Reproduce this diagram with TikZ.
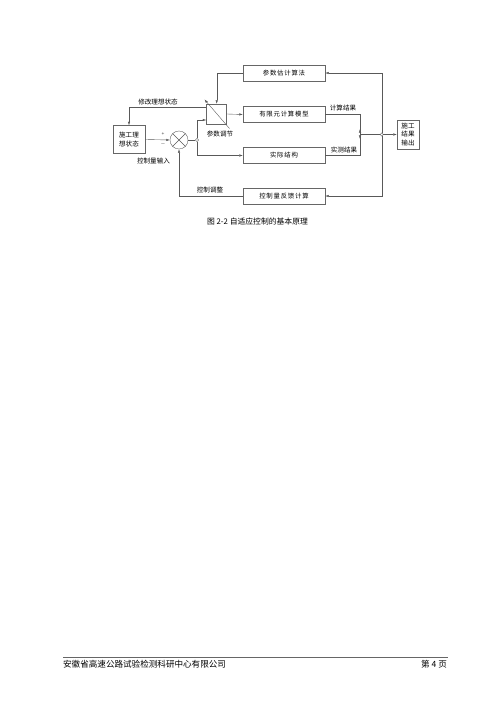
\documentclass[tikz,border=0pt]{standalone}
\usepackage{fontspec}
\setmainfont{Liberation Serif}
\newfontfamily\cjk{Noto Sans CJK SC}
\newfontfamily\cjksp[LetterSpace=12]{Noto Sans CJK SC}
\usetikzlibrary{arrows.meta}
\begin{document}
\begin{tikzpicture}[x=1.19pt,y=-1.19pt,
  ln/.style={draw=black!65,line width=0.45pt},
  arr/.style={ln,-{Latex[length=4.2pt,width=2.8pt]}},
  blk/.style={draw=black!60,line width=0.45pt,minimum width=82*1.19pt,minimum height=16*1.19pt,inner sep=0pt,font=\cjksp\fontsize{7.6}{9}\selectfont},
  lbl/.style={inner sep=0pt,font=\cjk\fontsize{7.8}{9}\selectfont},
  sbox/.style={draw=black!60,line width=0.45pt,inner sep=0pt,align=center,font=\cjk\fontsize{7.8}{10.5}\selectfont}]
\useasboundingbox (0,0) rectangle (500,707);
\fill[white] (0,0) rectangle (500,707);
% blocks
\node[blk] (est) at (284,73) {参数估计算法};
\node[blk] (fem) at (284,114.5) {有限元计算模型};
\node[blk] (real) at (284,155.5) {实际结构};
\node[blk] (fb) at (284,196) {控制量反馈计算};
\node[sbox,minimum width=32*1.19pt,minimum height=28*1.19pt] (ideal) at (129,139.5) {施工理\\想状态};
\node[sbox,minimum width=22*1.19pt,minimum height=29*1.19pt] (out) at (408,134.5) {施工\\结果\\输出};
\node[draw=black!60,line width=0.45pt,minimum width=20*1.19pt,minimum height=20*1.19pt,inner sep=0pt] (par) at (216.5,114) {};
\node[circle,draw=black!65,line width=0.45pt,minimum size=18*1.19pt,inner sep=0pt] (sum) at (179,140) {};
\draw[ln] (sum.north west)--(sum.south east) (sum.north east)--(sum.south west);
\node[circle,draw=black!65,fill=white,line width=0.4pt,minimum size=3.2*1.19pt,inner sep=0pt] (br) at (197,140) {};
\node[circle,draw=black!65,fill=white,line width=0.4pt,minimum size=3.2*1.19pt,inner sep=0pt] (br2) at (381.7,134.5) {};
\coordinate (jn) at (360,134.5);
% diagonal adjust arrow
\coordinate (dA) at (229.5,128.5);
\coordinate (dB) at (204.5,99.5);
\draw[arr] (dA)--(dB);
% labels
\node[lbl] at (220,133.5) {参数调节};
\node[lbl] at (158,102) {修改理想状态};
\node[lbl] at (153.5,161) {控制量输入};
\node[lbl] at (210,190) {控制调整};
\node[lbl] at (343,108) {计算结果};
\node[lbl] at (344,150) {实测结果};
\node[inner sep=0pt,font=\fontsize{6}{7}\selectfont] at (163,134) {+};
\node[inner sep=0pt,font=\fontsize{6}{7}\selectfont] at (163,144.5) {$-$};
% connectors
\draw[arr] (ideal.east)--(sum.west);
\draw[ln] (sum.east)--(br.west);
\draw[arr] (br.north)|-([yshift=-6*1.19pt]par.west);
\draw[arr] (br.south)|-(real.west);
\draw[arr] (par.east)--(fem.west);
\draw[arr] (est.west)-|([xshift=0.2*1.19pt]par.north);
\draw[arr] ([yshift=7.3*1.19pt]par.west)-|(ideal.north);
\draw[arr] (fb.west)-|(sum.south);
\draw[arr] (fem.east)-|([yshift=-4.5*1.19pt]jn);
\draw[arr] (real.east)-|([yshift=5.5*1.19pt]jn);
\draw[ln] (jn)--(br2.west);
\draw[arr] (br2.east)--(out.west);
\draw[arr] (br2.north)|-(est.east);
\draw[arr] (br2.south)|-(fb.east);
% caption
\node[inner sep=0pt,font=\cjk\fontsize{9.3}{11}\selectfont] (cap) at (257.5,222) {图 2-2 自适应控制的基本原理};
% footer
\coordinate (fl) at (63,657.5);
\coordinate (fr) at (448,657.5);
\draw[draw=black!60,line width=0.5pt] (fl)--(fr);
\node[anchor=west,inner sep=0pt,font=\cjk\fontsize{10.2}{12}\selectfont] (ft1) at (63,664) {安徽省高速公路试验检测科研中心有限公司};
\node[anchor=east,inner sep=0pt,font=\cjk\fontsize{10.2}{12}\selectfont] (ft2) at (447,664) {第 4 页};
\end{tikzpicture}
\end{document}
